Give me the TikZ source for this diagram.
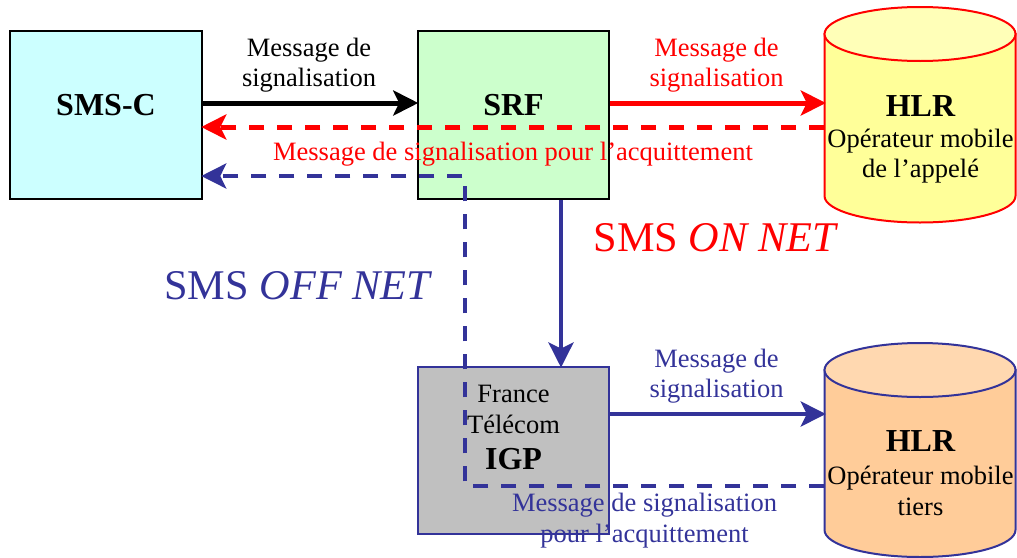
\documentclass[tikz,border=0pt]{standalone}
\usepackage{fontspec}
\setmainfont{Liberation Serif}
\usetikzlibrary{arrows.meta}
\definecolor{nblue}{HTML}{333399}
\definecolor{smsfill}{HTML}{CCFFFF}
\definecolor{srffill}{HTML}{CCFFCC}
\definecolor{igpfill}{HTML}{C0C0C0}
\definecolor{hlrabody}{HTML}{FFFF99}
\definecolor{hlratop}{HTML}{FFFFB8}
\definecolor{hlrbbody}{HTML}{FFCC99}
\definecolor{hlrbtop}{HTML}{FFD8B0}
\tikzset{
  x=1pt,y=-1pt,
  txt/.style={inner sep=0pt,align=center,font=\fontsize{26.5}{30.5}\selectfont},
  big/.style={inner sep=0pt,font=\fontsize{32}{36}\selectfont\bfseries},
  huge/.style={inner sep=0pt,font=\fontsize{42.3}{46}\selectfont},
  boxn/.style={draw=#1,line width=2pt,minimum width=191.5pt,minimum height=168pt,inner sep=0pt},
  cylbox/.style={minimum width=191pt,minimum height=#1,inner sep=0pt},
  conn/.style={line width=5pt,shorten >=-1.5pt,-{Stealth[length=25pt,width=25pt,inset=6pt]}},
  thinconn/.style={conn,line width=4.2pt},
  dashline/.style={dash pattern=on 15pt off 13pt},
  cyl/.style={line width=2pt}
}
\begin{document}
\begin{tikzpicture}
\useasboundingbox (0,0) rectangle (1017,557);
% boxes
\node[boxn=black,fill=smsfill] (smsc) at (106,115) {};
\node[boxn=black,fill=srffill] (srf) at (513.5,115) {};
\node[boxn=nblue,fill=igpfill,minimum height=167pt] (igp) at (513.5,450.5) {};
% cylinders
\node[cylbox=215pt] (hlra) at (920,114.5) {};
\node[cylbox=214pt] (hlrb) at (920,450) {};
\draw[red,cyl,fill=hlrabody] (824.5,34) -- (824.5,196) arc[x radius=95.5,y radius=26.5,start angle=180,end angle=0] -- (1015.5,34) -- cycle;
\draw[red,cyl,fill=hlratop] (920,34) ellipse[x radius=95.5,y radius=27];
\draw[nblue,cyl,fill=hlrbbody] (824.5,370) -- (824.5,530) arc[x radius=95.5,y radius=27,start angle=180,end angle=0] -- (1015.5,370) -- cycle;
\draw[nblue,cyl,fill=hlrbtop] (920,370) ellipse[x radius=95.5,y radius=27];
% connectors
\coordinate (benda) at (465,486);
\coordinate (bendb) at (465,176);
\draw[conn,black] ([yshift=12pt]smsc.east) -- ([yshift=12pt]srf.west);
\draw[conn,red] ([yshift=12pt]srf.east) -- ([yshift=11.5pt]hlra.west);
\draw[thinconn,nblue] ([xshift=47.5pt]srf.south) -- ([xshift=47.5pt]igp.north);
\draw[thinconn,nblue] ([yshift=36.5pt]igp.east) -- ([yshift=36pt]hlrb.west);
\draw[red,conn,dashline] ([yshift=-12.5pt]hlra.west) -- ([yshift=-12pt]smsc.east);
\draw[nblue,thinconn,dashline] ([yshift=-36pt]hlrb.west) -- (benda) -- (bendb) -- ([yshift=-61pt]smsc.east);
% labels
\node[big] (l1) at (106,105) {SMS-C};
\node[big] (l2) at (513.5,105) {SRF};
\node[big] (l3) at (920.5,106) {HLR};
\node[txt] (l4) at (920.5,156) {Opérateur mobile\\de l’appelé};
\node[big] (l5) at (513.5,459) {IGP};
\node[txt] (l6) at (513.5,409.5) {France\\Télécom};
\node[big] (l7) at (920.5,441) {HLR};
\node[txt] (l8) at (920.5,491) {Opérateur mobile\\tiers};
\node[txt] (l9) at (309,65) {Message de\\signalisation};
\node[txt,text=red] (l10) at (716.5,65) {Message de\\signalisation};
\node[txt,text=red] (l11) at (513,154) {Message de signalisation pour l’acquittement};
\node[txt,text=nblue] (l12) at (716.5,376) {Message de\\signalisation};
\node[txt,text=nblue] (l13) at (644.5,520.5) {Message de signalisation\\pour l’acquittement};
\node[huge,text=red] (l14) at (716,238) {SMS \textit{ON NET}};
\node[huge,text=nblue] (l15) at (298.5,286) {SMS \textit{OFF NET}};
\end{tikzpicture}
\end{document}
